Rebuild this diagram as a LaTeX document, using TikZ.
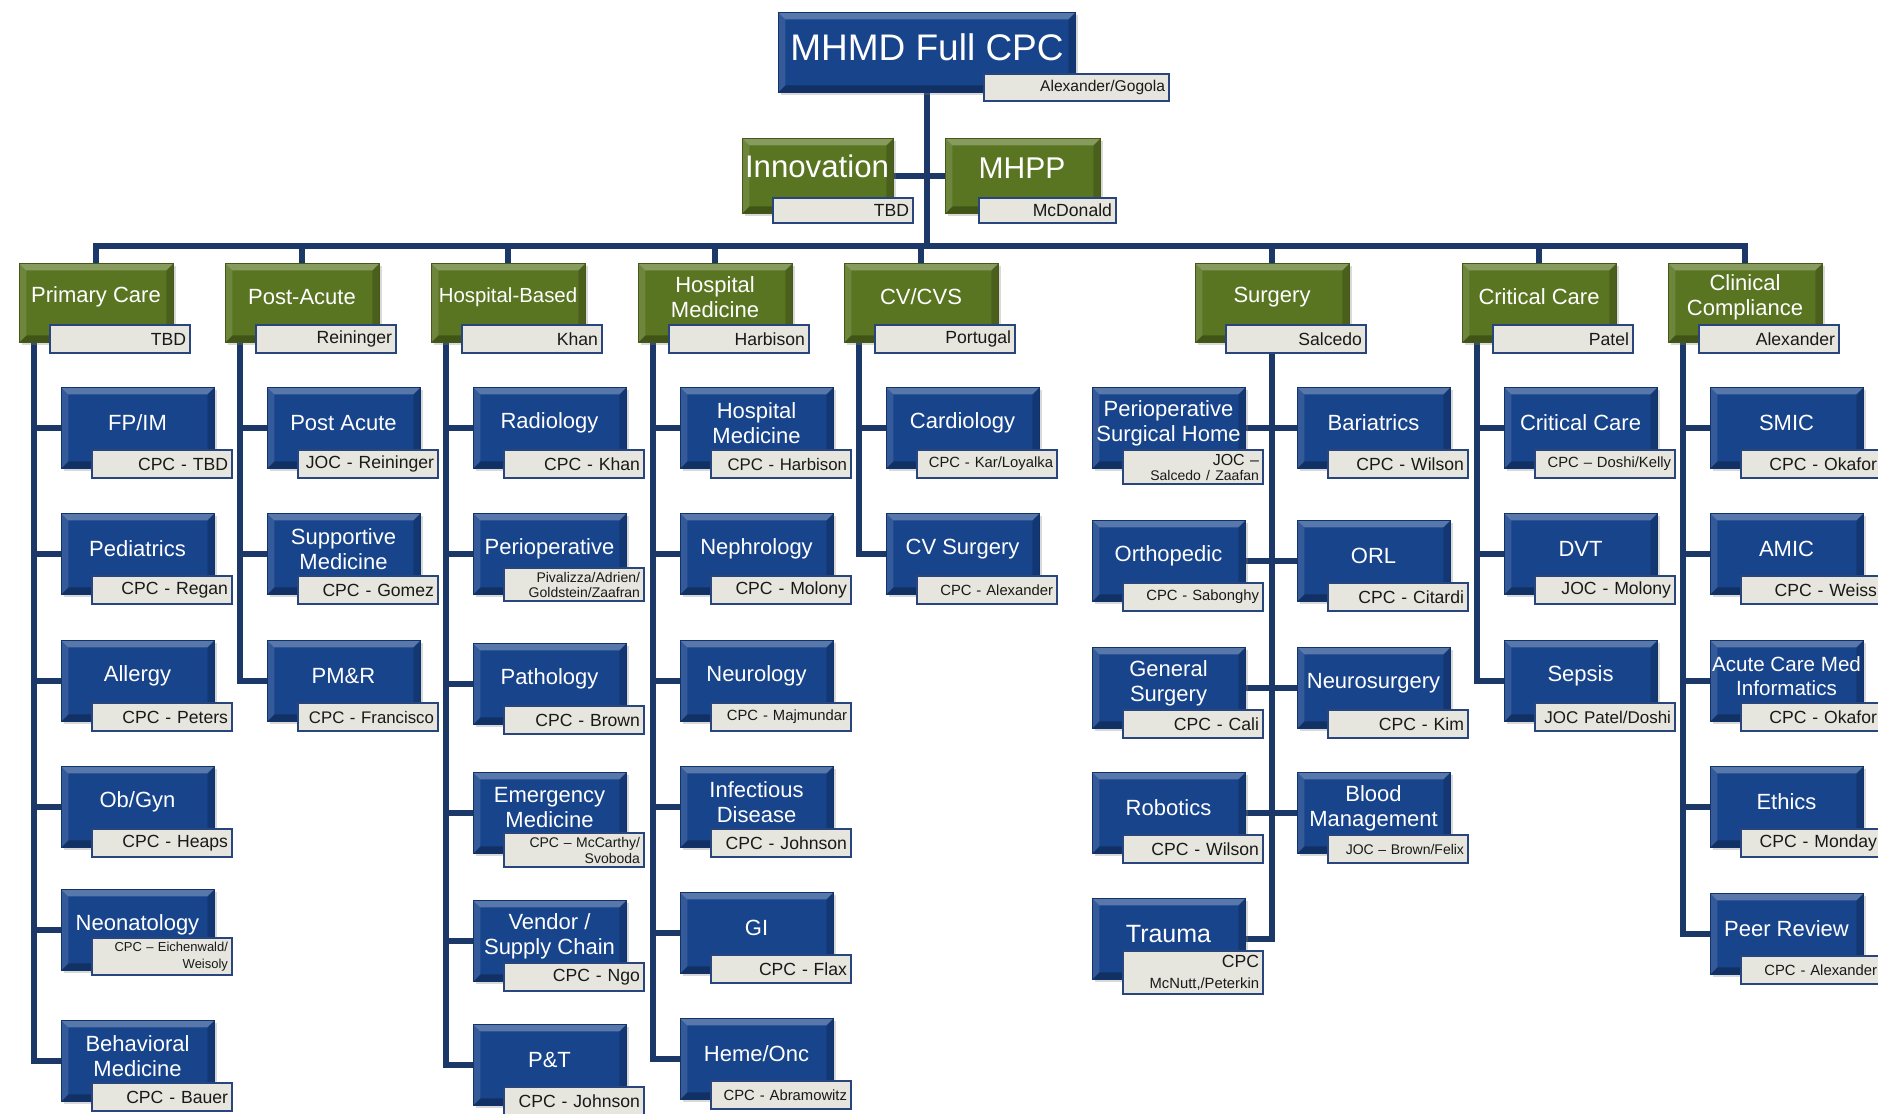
\documentclass[tikz,border=0pt]{standalone}
\usepackage{fontspec}
\setmainfont{Liberation Sans}
\usetikzlibrary{shadows,calc}
\definecolor{bblue}{RGB}{24,68,140}
\definecolor{ggreen}{RGB}{90,117,34}
\definecolor{connc}{RGB}{28,56,105}
\definecolor{lfill}{RGB}{230,230,222}
\definecolor{lbord}{RGB}{40,70,125}
\pgfdeclarelayer{bg}\pgfsetlayers{bg,main}
\tikzset{
 bevel/.style={path picture={
   \path (path picture bounding box.north west) coordinate (bvnw)
         (path picture bounding box.north east) coordinate (bvne)
         (path picture bounding box.south west) coordinate (bvsw)
         (path picture bounding box.south east) coordinate (bvse);
   \fill[white,opacity=.28] (bvnw) -- (bvne) -- ([shift={(-3.5pt,-3.5pt)}]bvne) -- ([shift={(3.5pt,-3.5pt)}]bvnw) -- cycle;
   \fill[white,opacity=.12] (bvnw) -- ([shift={(3.5pt,-3.5pt)}]bvnw) -- ([shift={(3.5pt,3.5pt)}]bvsw) -- (bvsw) -- cycle;
   \fill[black,opacity=.28] (bvsw) -- (bvse) -- ([shift={(-3.5pt,3.5pt)}]bvse) -- ([shift={(3.5pt,3.5pt)}]bvsw) -- cycle;
   \fill[black,opacity=.18] (bvne) -- (bvse) -- ([shift={(-3.5pt,3.5pt)}]bvse) -- ([shift={(-3.5pt,-3.5pt)}]bvne) -- cycle;
 }},
 bbox/.style={anchor=north west, inner sep=0pt, minimum width=76.5pt, minimum height=40.5pt,
   fill=bblue, draw=bblue!75!black, line width=0.4pt, bevel,
   drop shadow={shadow xshift=1.5pt,shadow yshift=-1.5pt,opacity=0.3}},
 gbox/.style={bbox, fill=ggreen, draw=ggreen!75!black, minimum width=77pt, minimum height=39.5pt},
 ttl/.style={text=white, font=\fontsize{11}{12.5}\selectfont, align=center, inner sep=0pt},
 lbl/.style={anchor=north west, fill=lfill, draw=lbord, line width=1pt, text width=66pt,
   minimum height=14pt, inner sep=2pt, align=right, font=\fontsize{8.8}{10}\selectfont, text=black!90},
 conn/.style={draw=connc, line width=3pt},
}
% name, x, y, title, label, label options, title options
\newcommand\chbox[7]{%
 \node[bbox] (#1) at (#2,#3) {};
 \node[ttl,#7] (#1-t) at (#2+76.5,#3+36) {#4};
 \node[lbl,#6] (#1-l) at (#2+30,#3+62) {#5};
}
% name, x, y, title, label, title options
\newcommand\grbox[6]{%
 \node[gbox] (#1) at (#2,#3) {};
 \node[ttl,#6] (#1-t) at (#2+77,#3+34) {#4};
 \node[lbl] (#1-l) at (#2+30,#3+61) {#5};
}
\begin{document}
\begin{tikzpicture}[x=0.5pt,y=-0.5pt]
\path[use as bounding box] (0,0) rectangle (1878,1113);
\clip (0,0) rectangle (1878,1113);

% top
\node[bbox, minimum width=148.5pt, minimum height=40pt] (top) at (778,12) {};
\node[ttl, font=\fontsize{18.5}{20}\selectfont] (top-t) at (927,47) {MHMD Full CPC};
\node[lbl, text width=88.5pt, minimum height=13.5pt, font=\fontsize{7.8}{9}\selectfont] (top-l) at (983,73) {Alexander/Gogola};

\node[gbox, minimum width=75.5pt, minimum height=37.5pt] (inno) at (742,138) {};
\node[ttl, font=\fontsize{15.6}{17}\selectfont] (inno-t) at (817,166) {Innovation};
\node[lbl, minimum height=12.5pt] (inno-l) at (772,197) {TBD};
\node[gbox, minimum width=77.5pt, minimum height=37.5pt] (mhpp) at (945,138) {};
\node[ttl, font=\fontsize{15}{17}\selectfont] (mhpp-t) at (1022,168) {MHPP};
\node[lbl, text width=64.5pt, minimum height=12.5pt] (mhpp-l) at (978,197) {McDonald};

% level 2
\grbox{pc}{19}{263}{Primary Care}{TBD}{}
\grbox{pa}{225}{263}{Post-Acute}{Reininger}{}
\grbox{hb}{431}{263}{Hospital-Based}{Khan}{font=\fontsize{10.2}{12}\selectfont}
\grbox{hm}{638}{263}{Hospital\\Medicine}{Harbison}{}
\grbox{cv}{844}{263}{CV/CVS}{Portugal}{}
\grbox{sg}{1195}{263}{Surgery}{Salcedo}{}
\grbox{cc}{1462}{263}{Critical Care}{Patel}{}
\grbox{ccp}{1668}{263}{Clinical\\Compliance}{Alexander}{}

% Primary Care
\chbox{fpim}{61}{387}{FP/IM}{CPC - TBD}{}{}
\chbox{ped}{61}{513}{Pediatrics}{CPC - Regan}{}{}
\chbox{allergy}{61}{640}{Allergy}{CPC - Peters}{}{}
\chbox{obgyn}{61}{766}{Ob/Gyn}{CPC - Heaps}{}{}
\chbox{neo}{61}{889}{Neonatology}{CPC -- Eichenwald/\\Weisoly}{yshift=7pt,font=\fontsize{6.5}{8.5}\selectfont}{}
\chbox{beh}{61}{1020}{Behavioral\\Medicine}{CPC - Bauer}{}{}

% Post-Acute
\chbox{postac}{267}{387}{Post Acute}{JOC - Reininger}{}{}
\chbox{supp}{267}{513}{Supportive\\Medicine}{CPC - Gomez}{}{}
\chbox{pmr}{267}{640}{PM\&R}{CPC - Francisco}{font=\fontsize{8.4}{10}\selectfont}{}

% Hospital-Based
\chbox{rad}{473}{387}{Radiology}{CPC - Khan}{}{}
\chbox{periop}{473}{513}{Perioperative}{Pivalizza/Adrien/\\Goldstein/Zaafran}{yshift=4pt,font=\fontsize{7}{7.6}\selectfont}{}
\chbox{path}{473}{643}{Pathology}{CPC - Brown}{}{}
\chbox{em}{473}{772}{Emergency\\Medicine}{CPC -- McCarthy/\\Svoboda}{yshift=1pt,font=\fontsize{7}{8}\selectfont}{}
\chbox{vendor}{473}{900}{Vendor /\\Supply Chain}{CPC - Ngo}{}{}
\chbox{pt}{473}{1024}{P\&T}{CPC - Johnson}{}{}

% Hospital Medicine
\chbox{hmed}{680}{387}{Hospital\\Medicine}{CPC - Harbison}{font=\fontsize{8.4}{10}\selectfont}{}
\chbox{neph}{680}{513}{Nephrology}{CPC - Molony}{}{}
\chbox{neuro}{680}{640}{Neurology}{CPC - Majmundar}{font=\fontsize{7.4}{9}\selectfont}{}
\chbox{id}{680}{766}{Infectious\\Disease}{CPC - Johnson}{}{}
\chbox{gi}{680}{892}{GI}{CPC - Flax}{}{}
\chbox{heme}{680}{1018}{Heme/Onc}{CPC - Abramowitz}{font=\fontsize{7.4}{9}\selectfont}{}

% CV/CVS
\chbox{card}{886}{387}{Cardiology}{CPC - Kar/Loyalka}{font=\fontsize{7.4}{9}\selectfont}{}
\chbox{cvs}{886}{513}{CV Surgery}{CPC - Alexander}{font=\fontsize{7.4}{9}\selectfont}{}

% Surgery
\chbox{psh}{1092}{387}{Perioperative\\Surgical Home}{JOC --\\{\fontsize{7}{7}\selectfont Salcedo / Zaafan}}{font=\fontsize{8}{7.5}\selectfont}{}
\chbox{ortho}{1092}{520}{Orthopedic}{CPC - Sabonghy}{font=\fontsize{7.4}{9}\selectfont}{}
\chbox{gs}{1092}{647}{General\\Surgery}{CPC - Cali}{}{}
\chbox{robo}{1092}{772}{Robotics}{CPC - Wilson}{}{}
\chbox{trauma}{1092}{898}{Trauma}{CPC\\{\fontsize{7.4}{9}\selectfont McNutt,/Peterkin}}{yshift=5pt,font=\fontsize{8.8}{10.5}\selectfont}{font=\fontsize{12.5}{14}\selectfont}
\chbox{bari}{1297}{387}{Bariatrics}{CPC - Wilson}{}{}
\chbox{orl}{1297}{520}{ORL}{CPC - Citardi}{}{}
\chbox{nsurg}{1297}{647}{Neurosurgery}{CPC - Kim}{}{}
\chbox{blood}{1297}{772}{Blood\\Management}{JOC -- Brown/Felix}{font=\fontsize{7}{9}\selectfont}{}

% Critical Care
\chbox{crit}{1504}{387}{Critical Care}{CPC -- Doshi/Kelly}{font=\fontsize{7.4}{9}\selectfont}{}
\chbox{dvt}{1504}{513}{DVT}{JOC - Molony}{}{}
\chbox{sepsis}{1504}{640}{Sepsis}{JOC Patel/Doshi}{font=\fontsize{8.5}{10}\selectfont}{}

% Clinical Compliance
\chbox{smic}{1710}{387}{SMIC}{CPC - Okafor}{}{}
\chbox{amic}{1710}{513}{AMIC}{CPC - Weiss}{}{}
\chbox{acmi}{1710}{640}{Acute Care Med\\Informatics}{CPC - Okafor}{}{font=\fontsize{10.3}{12}\selectfont}
\chbox{ethics}{1710}{766}{Ethics}{CPC - Monday}{}{}
\chbox{peer}{1710}{893}{Peer Review}{CPC - Alexander}{font=\fontsize{7.4}{9}\selectfont}{}

% connectors
\begin{pgfonlayer}{bg}
\coordinate (bar) at (928,246);
\draw[conn] (top.south) -- (top.south |- bar);
\draw[conn] (inno.east) -- (mhpp.west);
\foreach \g in {pc,pa,hb,hm,cv,sg,cc,ccp} {\draw[conn] (\g.north) |- (bar);}
\foreach \g/\kids in {pc/{fpim,ped,allergy,obgyn,neo,beh},pa/{postac,supp,pmr},
   hb/{rad,periop,path,em,vendor,pt},hm/{hmed,neph,neuro,id,gi,heme},cv/{card,cvs},
   cc/{crit,dvt,sepsis},ccp/{smic,amic,acmi,ethics,peer}} {
  \coordinate (\g S) at ([xshift=7.5pt]\g.south west);
  \foreach \k in \kids {\draw[conn] (\g S) |- (\k.west);}
}
\draw[conn] (sg.south) |- (trauma.east);
\draw[conn] (psh.east) -- (bari.west);
\draw[conn] (ortho.east) -- (orl.west);
\draw[conn] (gs.east) -- (nsurg.west);
\draw[conn] (robo.east) -- (blood.west);
\end{pgfonlayer}
\end{tikzpicture}
\end{document}
